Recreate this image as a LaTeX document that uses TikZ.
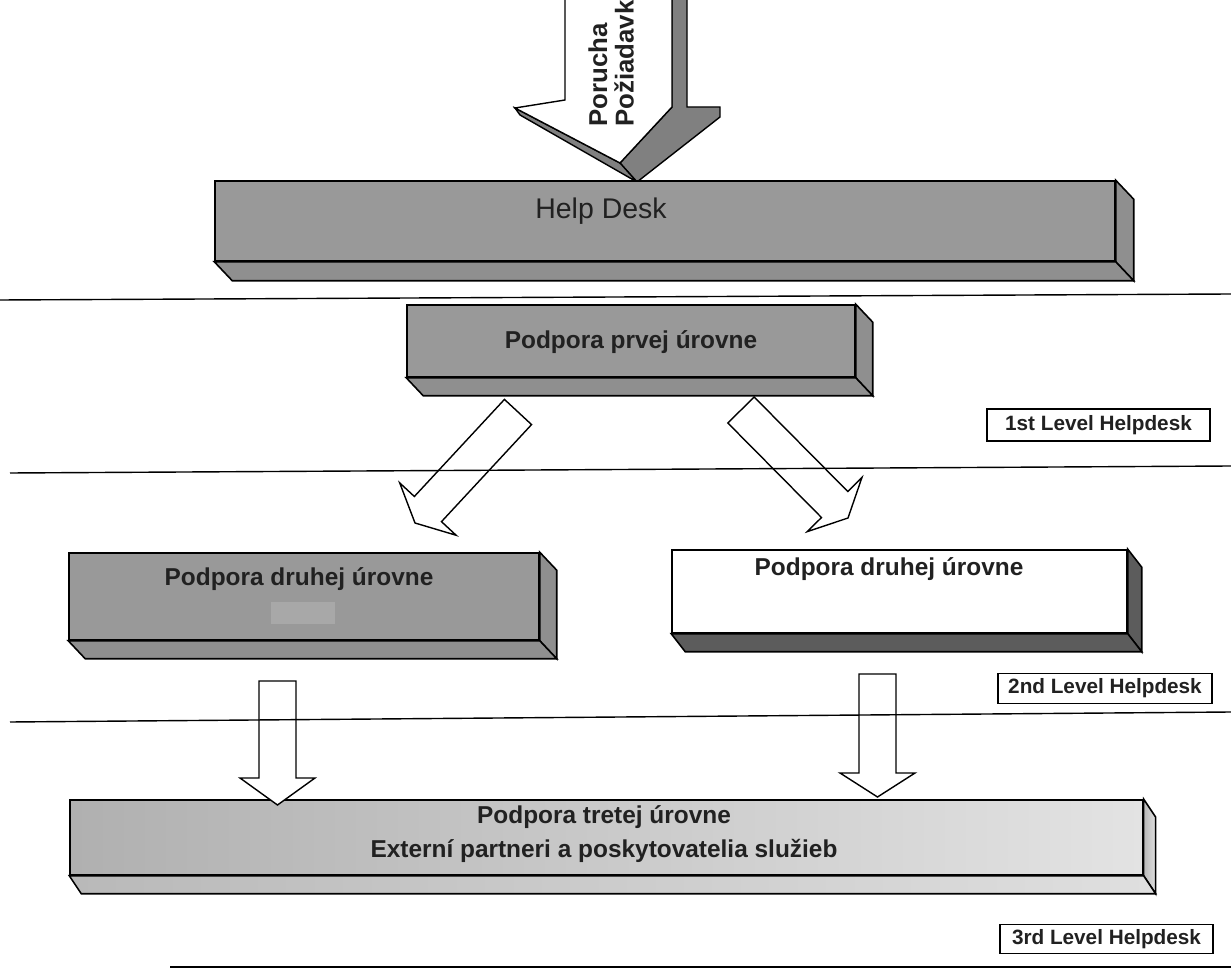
\documentclass[tikz,border=0pt]{standalone}
\usepackage{fontspec}
\setmainfont{Liberation Sans}
\usepackage{tikz}
\usetikzlibrary{calc}

\definecolor{slabgrey}{gray}{0.60}
\definecolor{slabside}{gray}{0.56}
\definecolor{darkside}{gray}{0.36}
\definecolor{arrowgrey}{gray}{0.50}
\definecolor{patchgrey}{gray}{0.66}
\definecolor{textdark}{gray}{0.13}

% side and bottom face of a slab (node name, fill, depth x, depth y)
\newcommand{\bevel}[4]{%
  \filldraw[line width=0.9pt, #2] (#1.north east) -- ($(#1.north east)+(#3,#4)$)
    -- ($(#1.south east)+(#3,#4)$) -- (#1.south east) -- cycle;
  \filldraw[line width=0.9pt, #2] (#1.south west) -- ($(#1.south west)+(#3,#4)$)
    -- ($(#1.south east)+(#3,#4)$) -- (#1.south east) -- cycle;
}

% hollow block arrow (tail, tip, half shaft, half head, head length)
\newcommand{\blockarrow}[5]{%
  \coordinate (ba-base) at ($(#2)!#5!(#1)$);
  \draw[blockarr] ($(#1)!#3!90:(#2)$) -- ($(ba-base)!#3!-90:(#1)$)
    -- ($(ba-base)!#4!-90:(#1)$) -- (#2) -- ($(ba-base)!#4!90:(#1)$)
    -- ($(ba-base)!#3!90:(#1)$) -- ($(#1)!#3!-90:(#2)$) -- cycle;
}

\begin{document}
\begin{tikzpicture}[x=0.02cm, y=-0.02cm,
    slab/.style={draw, line width=0.9pt, fill=slabgrey, inner sep=0pt},
    slabtext/.style={font=\bfseries\fontsize{13.9}{17}\selectfont, text=textdark, align=center},
    levelbox/.style={draw, line width=1pt, fill=white, inner sep=0pt,
      font=\bfseries\fontsize{11.8}{13}\selectfont, text=textdark},
    sepline/.style={line width=0.8pt},
    blockarr/.style={draw, fill=white, line width=0.8pt, line join=miter}]

    \useasboundingbox (0,0) rectangle (1231,979);
    \clip (0,0) rectangle (1231,979);

    % Incoming arrow
    \filldraw[fill=arrowgrey, line width=0.8pt] (672,-5) -- (687,-5) -- (687,107) -- (720,107)
        -- (720,117) -- (637,182) -- (620,163) -- (672,107) -- cycle;
    \filldraw[fill=arrowgrey, line width=0.8pt] (515,108) -- (620,163) -- (637,182) -- (520,115) -- cycle;
    \filldraw[fill=white, line width=0.8pt] (565,-5) -- (565,100) -- (515,108) -- (620,163)
        -- (672,107) -- (672,-5) -- cycle;
    \node[rotate=90, anchor=west, font=\bfseries\fontsize{14.7}{17}\selectfont, text=textdark]
        (porucha) at (598,133) {Porucha};
    \node[rotate=90, anchor=west, font=\bfseries\fontsize{14.7}{17}\selectfont, text=textdark]
        (poziadavka) at (624,133) {Požiadavka};

    % Help desk
    \node[slab, minimum width=18cm, minimum height=1.6cm] (helpdesk) at (665,221) {};
    \bevel{helpdesk}{fill=slabside}{18}{19}
    \node[font=\fontsize{16.2}{18}\selectfont, text=textdark] (hdtext) at (601,211) {Help Desk};

    % First level
    \node[slab, minimum width=8.96cm, minimum height=1.44cm] (prvej) at (631,341) {};
    \bevel{prvej}{fill=slabside}{17}{18}
    \node[slabtext] (prvejtext) at (631,342) {Podpora prvej úrovne};
    \node[levelbox, minimum width=4.46cm, minimum height=0.64cm] (lvl1) at (1098.5,425)
        {1st Level Helpdesk};

    % Second level
    \node[slab, minimum width=9.4cm, minimum height=1.74cm] (druhejl) at (304,596.5) {};
    \bevel{druhejl}{fill=slabside}{17}{18}
    \fill[patchgrey] (271,602) rectangle (335,624);
    \node[slabtext] (druhejltext) at (299,579) {Podpora druhej úrovne};

    \node[slab, fill=white, minimum width=9.1cm, minimum height=1.66cm] (druhejr) at (899.5,591.5) {};
    \bevel{druhejr}{fill=darkside}{14}{18}
    \node[slabtext] (druhejrtext) at (889,569) {Podpora druhej úrovne};
    \node[levelbox, minimum width=4.28cm, minimum height=0.6cm] (lvl2) at (1105,688.5)
        {2nd Level Helpdesk};

    % Third level
    \node[slab, left color=gray!62, right color=gray!22, minimum width=21.46cm,
        minimum height=1.5cm] (tretej) at (606.5,837.5) {};
    \bevel{tretej}{left color=gray!55, right color=gray!25}{12}{18}
    \node[slabtext] (tretejtext) at (604,834) {Podpora tretej úrovne\\[2pt]
        Externí partneri a poskytovatelia služieb};
    \node[levelbox, minimum width=4.26cm, minimum height=0.58cm] (lvl3) at (1106.5,939)
        {3rd Level Helpdesk};

    % Arrows between levels
    \coordinate (a1tail) at (518,412);
    \coordinate (a1tip) at (415,523);
    \coordinate (a2tail) at (741,410);
    \coordinate (a2tip) at (848,518);
    \coordinate (a3tail) at (277.5,681);
    \coordinate (a3tip) at (277.5,805);
    \coordinate (a4tail) at (877.5,674);
    \coordinate (a4tip) at (877.5,797);
    \blockarrow{a1tail}{a1tip}{0.37cm}{0.77cm}{0.38cm}
    \blockarrow{a2tail}{a2tip}{0.37cm}{0.77cm}{0.38cm}
    \blockarrow{a3tail}{a3tip}{0.37cm}{0.75cm}{0.54cm}
    \blockarrow{a4tail}{a4tip}{0.37cm}{0.75cm}{0.48cm}

    % Separator lines
    \foreach \xa/\ya/\yb in {0/300/294, 10/473/466, 10/722/712, 170/967/967}
        \draw[sepline] (\xa,\ya) -- (1231,\yb);
\end{tikzpicture}
\end{document}
